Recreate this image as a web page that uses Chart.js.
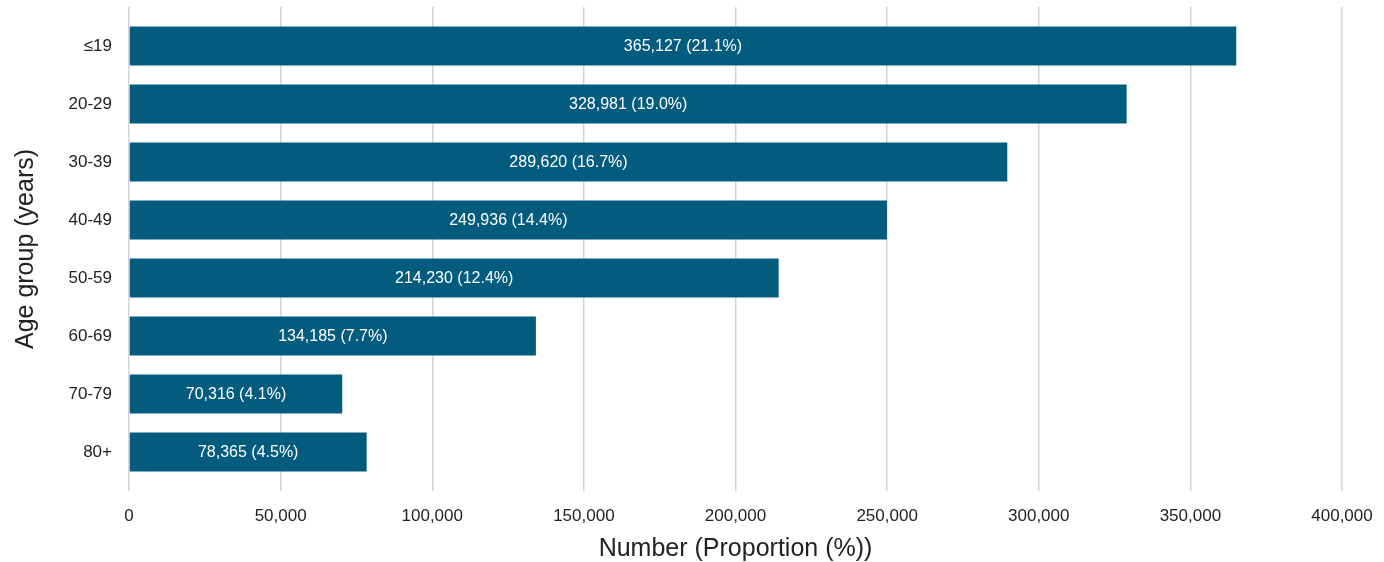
<!DOCTYPE html>
<html>
<head>
<meta charset="utf-8">
<script src="https://cdn.jsdelivr.net/npm/chart.js@4"></script>
<style>
  html, body { margin: 0; padding: 0; background: #fff; }
  #wrap { width: 1384px; height: 562px; }
</style>
</head>
<body>
<div id="wrap"><canvas id="myChart"></canvas></div>
<script>
// data
const ageGroups = ["\u226419", "20-29", "30-39", "40-49", "50-59", "60-69", "70-79", "80+"];
const counts = [365127, 328981, 289620, 249936, 214230, 134185, 70316, 78365];
const shares = [21.1, 19.0, 16.7, 14.4, 12.4, 7.7, 4.1, 4.5];
const xTicks = [0, 50000, 100000, 150000, 200000, 250000, 300000, 350000, 400000];

Chart.defaults.font.family = "'Liberation Sans', Arial, sans-serif";
Chart.defaults.color = "#222";

const gridColor = "#d4d4d4";

// writes "n (p%)" in the middle of each bar
const barText = {
  id: "barText",
  afterDatasetsDraw(chart) {
    const ctx = chart.ctx;
    const meta = chart.getDatasetMeta(0);
    ctx.save();
    ctx.font = "16px 'Liberation Sans', Arial, sans-serif";
    ctx.fillStyle = "#fff";
    ctx.textAlign = "center";
    ctx.textBaseline = "middle";
    meta.data.forEach(function (bar, i) {
      const mid = (bar.x + bar.base) / 2;
      ctx.fillText(counts[i].toLocaleString("en-US") + " (" + shares[i].toFixed(1) + "%)", mid, bar.y + 1);
    });
    ctx.restore();
  }
};

function fixedTicks(scale) {
  scale.ticks = xTicks.map(function (v) { return { value: v }; });
}

const config = {
  type: "bar",
  data: {
    labels: ageGroups,
    datasets: [{
      data: counts,
      backgroundColor: "#035b7d",
      borderWidth: 0,
      categoryPercentage: 1,
      barPercentage: 0.67
    }]
  },
  options: {
    indexAxis: "y",
    responsive: true,
    maintainAspectRatio: false,
    animation: false,
    layout: { padding: { top: 7, right: 42, left: 0, bottom: 0 } },
    plugins: {
      legend: { display: false },
      tooltip: { enabled: false }
    },
    scales: {
      x: {
        min: 0,
        max: 400000,
        afterBuildTicks: fixedTicks,
        afterFit: function (scale) {
          scale.height = 81;
          scale.paddingLeft = 0;
          scale.paddingRight = 0;
        },
        grid: { color: gridColor, lineWidth: 1.5, drawTicks: true, tickLength: 10 },
        border: { display: false },
        ticks: {
          padding: 15,
          font: { size: 17 },
          callback: function (v) { return Number(v).toLocaleString("en-US"); }
        },
        title: {
          display: true,
          text: "Number (Proportion (%))",
          font: { size: 25 },
          padding: { top: 0, bottom: -2 }
        }
      },
      x2: {
        position: "top",
        min: 0,
        max: 400000,
        afterBuildTicks: fixedTicks,
        afterFit: function (scale) { scale.height = 10; },
        grid: { color: gridColor, lineWidth: 1.5, drawOnChartArea: false, drawTicks: true, tickLength: 10 },
        border: { display: false },
        ticks: { display: false }
      },
      y: {
        afterFit: function (scale) {
          scale.width = 129;
          scale.paddingTop = 0;
          scale.paddingBottom = 0;
        },
        grid: { display: false, drawTicks: false },
        border: { display: false },
        ticks: { padding: 17, font: { size: 17 } },
        title: {
          display: true,
          text: "Age group (years)",
          font: { size: 25 },
          padding: { top: 11, bottom: 0 }
        }
      }
    }
  },
  plugins: [barText]
};

const myChart = new Chart(document.getElementById("myChart"), config);
</script>
</body>
</html>
